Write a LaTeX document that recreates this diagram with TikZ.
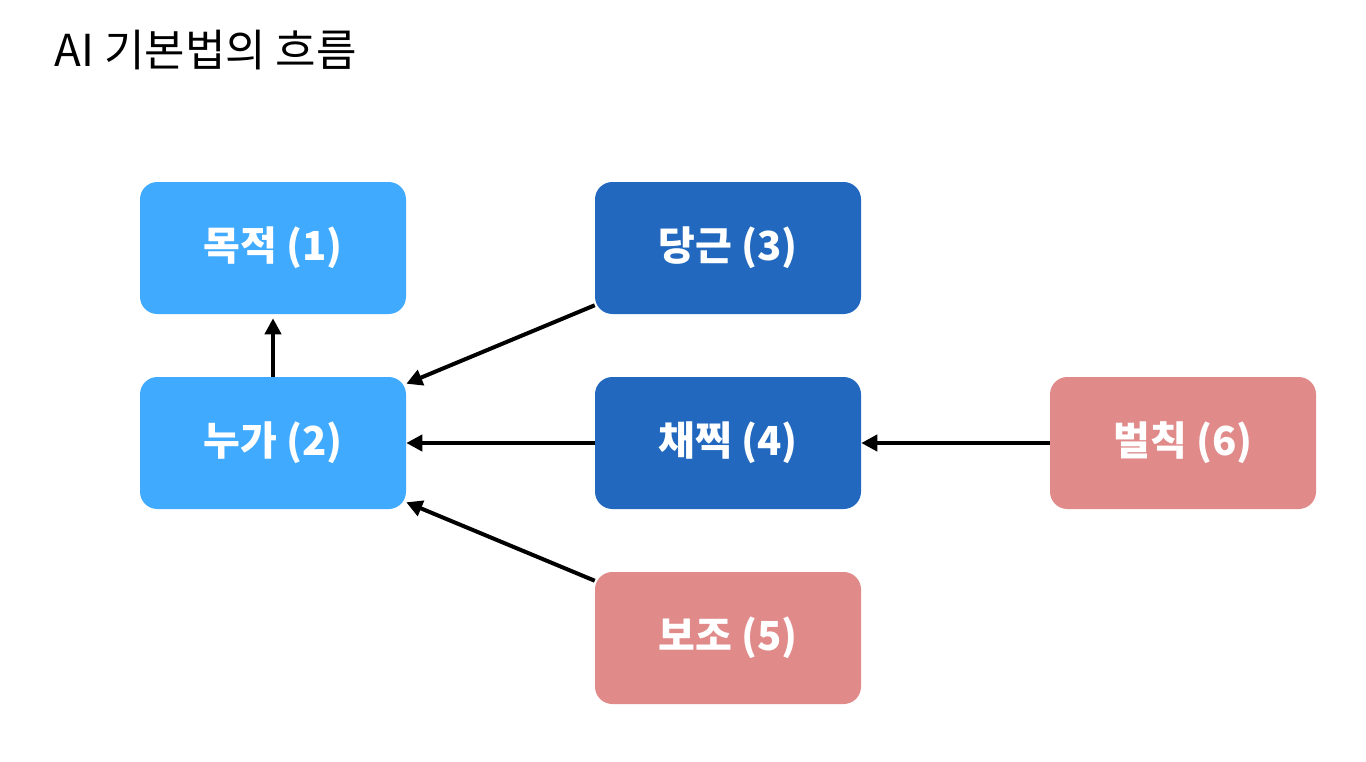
\documentclass[tikz,border=0pt]{standalone}
\usepackage{fontspec}
\setmainfont{Noto Sans CJK KR}
\usetikzlibrary{calc,arrows.meta}
\definecolor{lightblue}{HTML}{40AAFF}
\definecolor{darkblue}{HTML}{2168BE}
\definecolor{rosepink}{HTML}{E08A8A}
\tikzset{
  box/.style={rounded corners=13pt, minimum width=199.5pt, minimum height=99pt,
    text=white, font=\fontsize{30}{36}\selectfont\bfseries, inner sep=0pt},
  flow/.style={line width=3pt, -{Triangle[length=12pt,width=12pt]}}
}
\begin{document}
\begin{tikzpicture}[x=0.75pt,y=-0.75pt]
\useasboundingbox (0,0) rectangle (1366,761);

\node[anchor=west, font=\fontsize{33}{40}\selectfont] (title) at (50,50) {AI 기본법의 흐름};

\node[box, fill=lightblue] (purpose) at (273,248) {목적 (1)};
\node[box, fill=lightblue] (who) at (273,443) {누가 (2)};
\node[box, fill=darkblue] (carrot) at (728,248) {당근 (3)};
\node[box, fill=darkblue] (whip) at (728,443) {채찍 (4)};
\node[box, fill=rosepink] (support) at (728,638) {보조 (5)};
\node[box, fill=rosepink] (penalty) at (1183,443) {벌칙 (6)};

\draw[flow] (who.north) -- ($(purpose.south)+(0,4)$);
\draw[flow] ($(carrot.south west)+(0,-9)$) -- ($(who.north east)+(0,7)$);
\draw[flow] (whip.west) -- (who.east);
\draw[flow] ($(support.north west)+(0,9)$) -- ($(who.south east)+(0,-7)$);
\draw[flow] (penalty.west) -- (whip.east);
\end{tikzpicture}
\end{document}
